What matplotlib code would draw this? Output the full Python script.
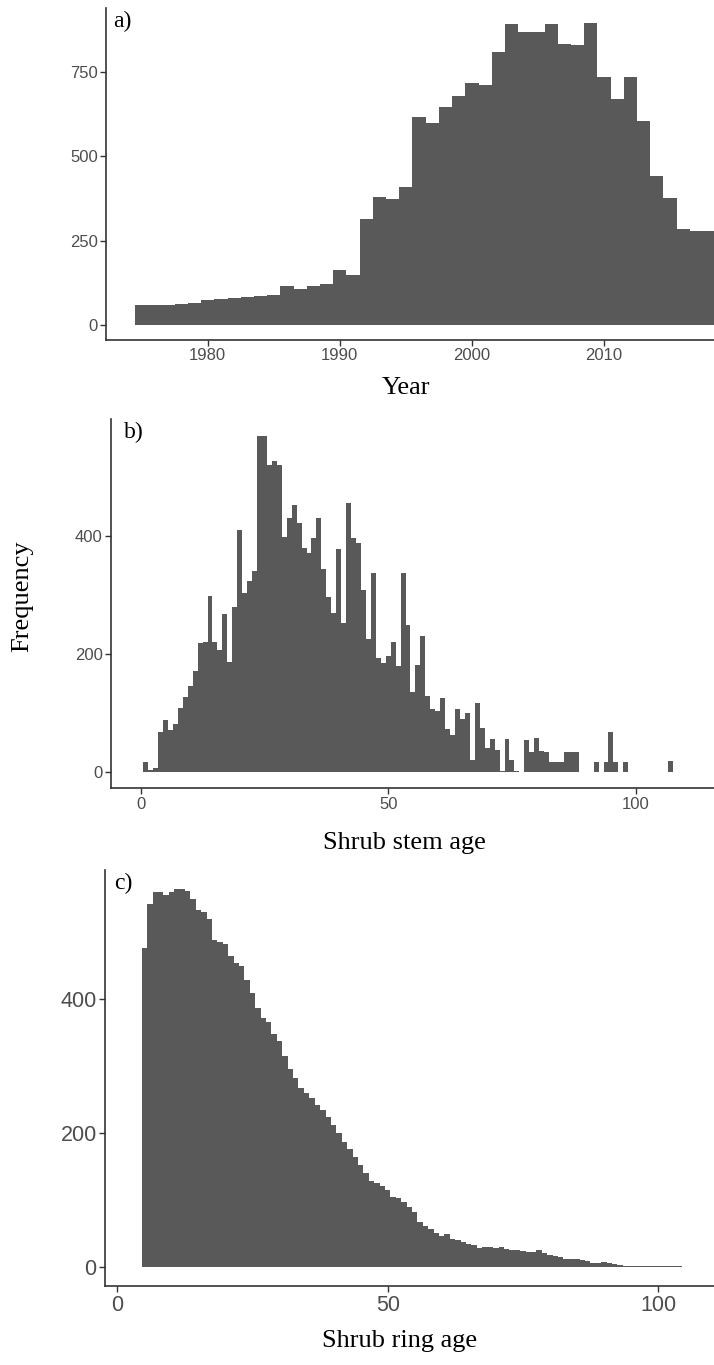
import matplotlib
matplotlib.use("Agg")
import matplotlib.pyplot as plt
import numpy as np

W, H, DPI = 714, 1365, 100
BAR = "#595959"
AXIS = "#333333"
TICK_TXT = "#4D4D4D"

# a) stems per year (one-year bins)
years = np.arange(1975, 2019)
year_counts = [59, 59, 60, 62, 65, 74, 77, 79, 83, 86, 89, 115, 108, 115, 120,
               163, 147, 315, 379, 373, 409, 615, 598, 647, 677, 718, 710, 810,
               891, 869, 869, 891, 832, 829, 894, 736, 670, 734, 603, 442, 377,
               283, 277, 277]

# b) shrub stem age, ages 1..107
stem_ages = np.arange(1, 108)
stem_counts = [16, 3, 6, 68, 87, 70, 81, 108, 127, 145, 171, 218, 220, 299, 221,
               207, 268, 187, 279, 410, 303, 323, 340, 570, 570, 521, 528, 520,
               399, 430, 452, 422, 380, 372, 396, 431, 345, 297, 270, 378, 253,
               456, 396, 388, 308, 226, 337, 193, 184, 197, 221, 179, 337, 249,
               136, 181, 231, 128, 106, 103, 126, 72, 63, 106, 89, 100, 20, 117,
               74, 40, 55, 37, 2, 55, 20, 2, 0, 53, 33, 57, 35, 33, 16, 16, 16,
               34, 34, 34, 0, 0, 0, 16, 0, 16, 68, 16, 0, 16, 0, 0, 0, 0, 0, 0,
               0, 0, 18]

# c) shrub ring age, ages 5..104
ring_ages = np.arange(5, 105)
ring_counts = [476, 542, 560, 560, 556, 560, 564, 565, 562, 550, 533, 531, 520,
               489, 486, 482, 464, 454, 449, 429, 410, 387, 372, 366, 348, 337,
               316, 296, 282, 267, 260, 252, 242, 234, 224, 212, 200, 187, 176,
               165, 153, 140, 129, 126, 121, 115, 105, 103, 98, 90, 82, 68, 61,
               57, 51, 46, 50, 42, 40, 37, 34, 33, 29, 31, 31, 29, 31, 27, 26,
               26, 25, 23, 23, 26, 22, 19, 17, 15, 13, 13, 12, 11, 9, 6, 6, 8,
               7, 5, 3, 2, 2, 2, 2, 2, 2, 2, 2, 2, 2, 2]


def add_axes(fig, left, right, top, bottom):
    """Axes from pixel box (image coords, y down)."""
    return fig.add_axes([left / W, 1 - bottom / H, (right - left) / W, (bottom - top) / H])


def style(ax, tick_size):
    for s in ("top", "right"):
        ax.spines[s].set_visible(False)
    for s in ("left", "bottom"):
        ax.spines[s].set_color(AXIS)
        ax.spines[s].set_linewidth(1.2)
    ax.tick_params(length=4, width=1.0, color=AXIS, labelcolor=TICK_TXT,
                   labelsize=tick_size, pad=2)
    for lab in ax.get_xticklabels() + ax.get_yticklabels():
        lab.set_family("Liberation Sans")


fig = plt.figure(figsize=(W / DPI, H / DPI), dpi=DPI)
fig.patch.set_facecolor("white")
letter = dict(ha="left", va="top", family="Liberation Serif", fontsize=17)

# panel a
ax = add_axes(fig, 106, 745.4, 8.1, 340.1)
ax.bar(years, year_counts, width=1.0, color=BAR, linewidth=0)
ax.set_xlim(1972.3, 2020.7)
ax.set_ylim(-44.7, 938.7)
ax.set_xticks([1980, 1990, 2000, 2010])
ax.set_yticks([0, 250, 500, 750])
style(ax, 12)
ax.text(7 / 639.4, 0.992, "a)", transform=ax.transAxes, **letter)

# panel b
ax = add_axes(fig, 111, 745, 419.2, 788.5)
ax.bar(stem_ages, stem_counts, width=1.0, color=BAR, linewidth=0)
ax.set_xlim(-6.0, -6.0 + (745 - 111) / 4.95)
ax.set_ylim(-28.5, 598.5)
ax.set_xticks([0, 50, 100])
ax.set_yticks([0, 200, 400])
style(ax, 12)
ax.text(13 / 634, 0.992, "b)", transform=ax.transAxes, **letter)

# panel c
ax = add_axes(fig, 105, 745, 869.8, 1286.2)
ax.bar(ring_ages, ring_counts, width=1.0, color=BAR, linewidth=0)
ax.set_xlim(-2.29, -2.29 + (745 - 105) / 5.406)
ax.set_ylim(-28.25, 593.25)
ax.set_xticks([0, 50, 100])
ax.set_yticks([0, 200, 400])
style(ax, 15.5)
ax.text(9 / 640, 0.992, "c)", transform=ax.transAxes, **letter)

# axis titles
serif = dict(family="Liberation Serif", fontsize=19, color="black",
             ha="center", va="center")
fig.text(406 / W, 1 - 388 / H, "Year", **serif)
fig.text(404 / W, 1 - 843 / H, "Shrub stem age", **serif)
fig.text(400 / W, 1 - 1341 / H, "Shrub ring age", **serif)
fig.text(22 / W, 1 - 596 / H, "Frequency", rotation=90, **serif)

fig.savefig("out.png", dpi=DPI, facecolor="white")
